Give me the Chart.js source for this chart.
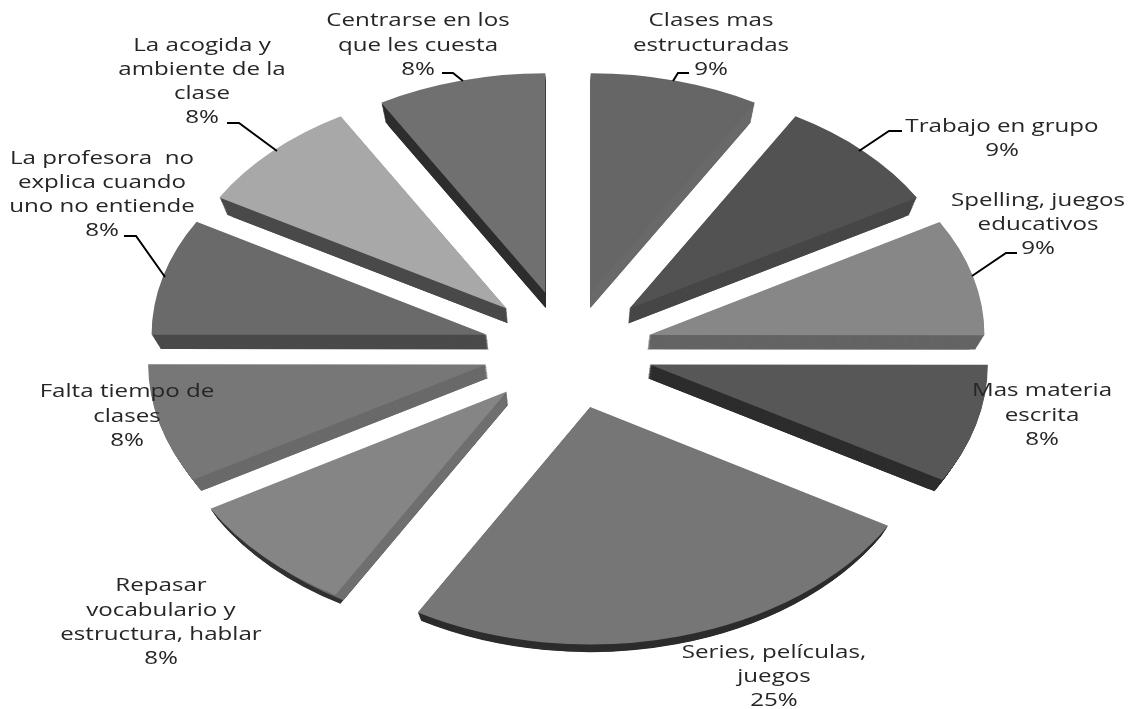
<!DOCTYPE html>
<html>
<head>
<meta charset="utf-8">
<script src="https://cdn.jsdelivr.net/npm/chart.js@4/dist/chart.umd.min.js"></script>
<style>
    html, body { margin: 0; padding: 0; background: #fff; }
    canvas { display: block; }
</style>
</head>
<body>
<canvas id="pie3d" width="1131" height="709"></canvas>
<script>
const categories = [
    'Clases mas\nestructuradas',
    'Trabajo en grupo',
    'Spelling, juegos\neducativos',
    'Mas materia\nescrita',
    'Series, películas,\njuegos',
    'Repasar\nvocabulario y\nestructura, hablar',
    'Falta tiempo de\nclases',
    'La profesora  no\nexplica cuando\nuno no entiende',
    'La acogida y\nambiente de la\nclase',
    'Centrarse en los\nque les cuesta'
];
// slices look equal (30 deg) though the labels round to 9% or 8%
const values = [8.5, 8.5, 8.5, 8.49, 25.49, 8.49, 8.49, 8.49, 8.49, 8.49];

// greys, one per slice
const topColors = ['#666666', '#525252', '#878787', '#575757', '#767676', '#858585', '#777777', '#6a6a6a', '#a8a8a8', '#707070'];
const wallColors = ['#696969', '#474747', '#646464', '#2d2d2d', '#2d2d2d', '#6f6f6f', '#6a6a6a', '#4a4a4a', '#4a4a4a', '#2d2d2d'];
const rimColors = ['#696969', '#474747', '#646464', '#2d2d2d', '#2d2d2d', '#333333', '#6a6a6a', '#4a4a4a', '#4a4a4a', '#2d2d2d'];
const explode = [90, 88, 84, 84, 84, 85, 84, 84, 88, 90];

// where each label goes: centre x, y of first line, line height
const labelPos = [
    [711, 21, 24.5], [1002, 127, 24], [1038, 201, 24], [1042, 391, 24.5], [774, 653, 24],
    [161, 586, 24.3], [127, 392, 24.5], [102, 159, 24], [202, 46, 24], [418, 21, 24.5]
];
const leaders = [
    [[689, 73], [678, 73], [673, 81]],
    [[902, 131], [889, 131], [859, 151]],
    [[1017, 253], [1006, 253], [972, 276]],
    null, null, null, null,
    [[124, 236], [136, 236], [165, 277]],
    [[227, 123], [239, 123], [277, 151]],
    [[442, 73], [453, 73], [463, 81]]
];

// bottom faces shrink towards this point, that is what gives the thick back and thin front
const vanish = { x: 568, y: 1000 };
const depth = 0.0216;

function placeSlice(ctx, arc, i) {
    const mid = (arc.startAngle + arc.endAngle) / 2;
    const back = -Math.sin(mid); // 1 at the back of the pie, -1 at the front
    const sx = back > 0 ? 1 - 0.025 * back * back : 1 - 0.025 * back;
    ctx.translate(arc.x, arc.y);
    ctx.scale(sx, 0.68 - 0.028 * back);
    ctx.translate(-arc.x, -arc.y);
    ctx.translate(Math.cos(mid) * explode[i], Math.sin(mid) * explode[i]);
}

function ghostArc(arc, color, shrink) {
    const ghost = Object.create(arc);
    ghost.options = Object.assign({}, arc.options, { backgroundColor: color });
    ghost.outerRadius = arc.outerRadius - shrink;
    return ghost;
}

const pie3dPlugin = {
    id: 'pie3d',
    beforeDatasetsDraw(chart) {
        const ctx = chart.ctx;
        chart.getDatasetMeta(0).data.forEach(function (arc, i) {
            const rim = ghostArc(arc, rimColors[i], 0);
            const wall = ghostArc(arc, wallColors[i], 6);
            [rim, wall].forEach(function (part) {
                for (let step = 16; step > 0; step--) {
                    const k = 1 - depth * step / 16;
                    ctx.save();
                    ctx.translate(vanish.x, vanish.y);
                    ctx.scale(k, k);
                    ctx.translate(-vanish.x, -vanish.y);
                    placeSlice(ctx, arc, i);
                    part.draw(ctx);
                    ctx.restore();
                }
            });
            ctx.save();
            placeSlice(ctx, arc, i);
            arc.draw(ctx);
            ctx.restore();
        });
        return false;
    },
    afterDraw(chart) {
        const ctx = chart.ctx;
        ctx.save();
        ctx.strokeStyle = '#000';
        ctx.lineWidth = 2;
        leaders.forEach(function (line) {
            if (!line) return;
            ctx.beginPath();
            line.forEach(function (p, j) {
                if (j === 0) ctx.moveTo(p[0], p[1]);
                else ctx.lineTo(p[0], p[1]);
            });
            ctx.stroke();
        });
        ctx.fillStyle = '#262626';
        ctx.font = '19px "Open Sans"';
        ctx.textAlign = 'center';
        ctx.textBaseline = 'middle';
        ctx.filter = 'blur(0.4px)';
        categories.forEach(function (cat, i) {
            const lines = cat.split('\n').concat(Math.round(values[i]) + '%');
            lines.forEach(function (text, j) {
                // the original text is stretched sideways
                ctx.save();
                ctx.translate(labelPos[i][0], labelPos[i][1] + j * labelPos[i][2]);
                ctx.scale(1.27, 1);
                ctx.fillText(text, 0, 0);
                ctx.restore();
            });
        });
        ctx.restore();
    }
};

document.addEventListener('DOMContentLoaded', function () {
    const pieCtx = document.getElementById('pie3d').getContext('2d');
    new Chart(pieCtx, {
        type: 'pie',
        data: {
            labels: categories,
            datasets: [{
                data: values,
                backgroundColor: topColors,
                borderWidth: 0
            }]
        },
        options: {
            responsive: false,
            animation: false,
            radius: 336,
            layout: { padding: { left: 5, bottom: 10 } },
            plugins: {
                legend: { display: false },
                tooltip: { enabled: false }
            }
        },
        plugins: [pie3dPlugin]
    });
});
</script>
</body>
</html>
